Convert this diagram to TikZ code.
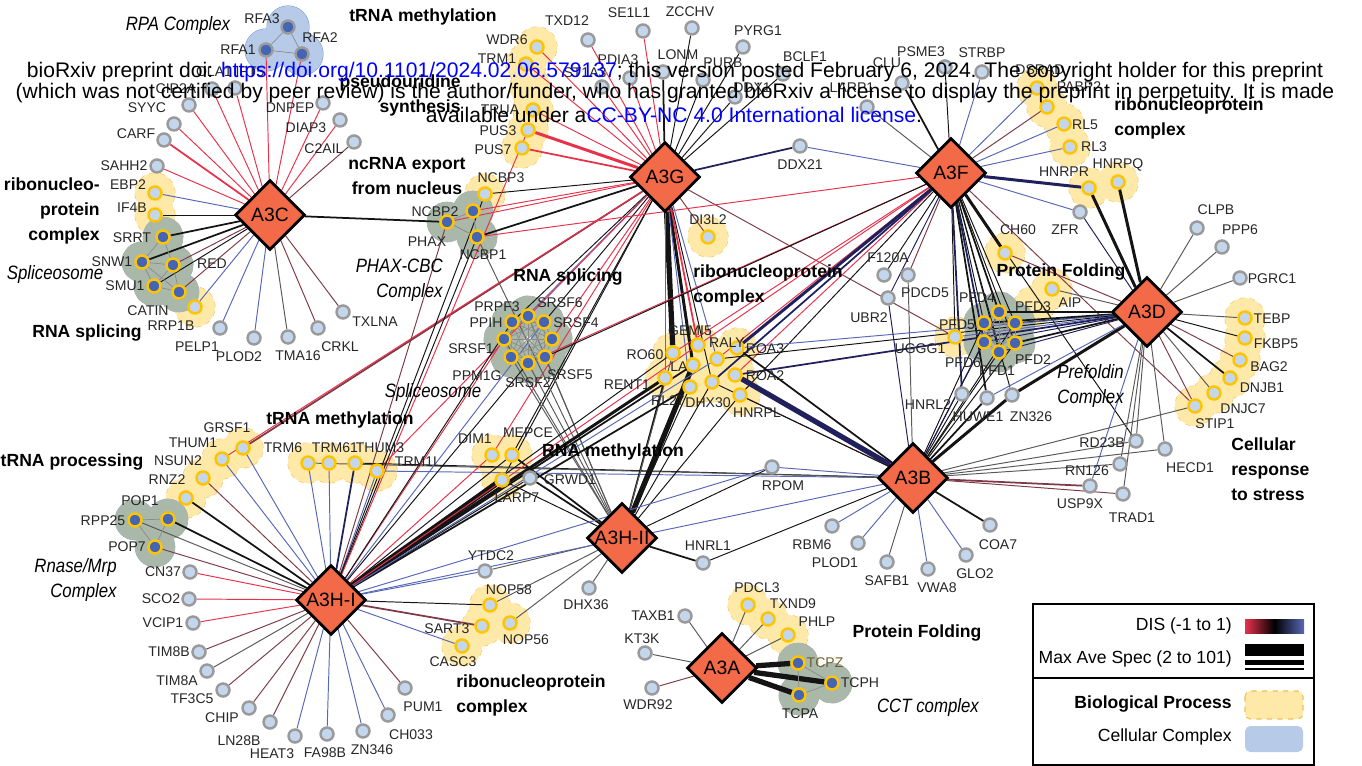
\documentclass[tikz,border=0pt]{standalone}
\usepackage{fontspec}
\setmainfont{Liberation Sans}
\newfontfamily\narrowsans[FakeStretch=0.87]{Liberation Sans}
\usetikzlibrary{shapes.geometric}
\pgfdeclarelayer{blobs}
\pgfdeclarelayer{edges}
\pgfsetlayers{blobs,edges,main}
\definecolor{preyfill}{HTML}{C4D6EC}
\definecolor{preyrim}{HTML}{9A9A9A}
\definecolor{bprim}{HTML}{FFC400}
\definecolor{cxfill}{HTML}{4664B4}
\definecolor{baitfill}{HTML}{F26A48}
\definecolor{bpfill}{HTML}{FFE9A8}
\definecolor{bpline}{HTML}{F0C050}
\definecolor{cplxfill}{HTML}{AAB8AA}
\definecolor{cplxline}{HTML}{8FAAD6}
\definecolor{rpafill}{HTML}{B7CBE8}
\definecolor{rpaline}{HTML}{6F9AD4}
\definecolor{disR}{HTML}{E8324C}
\definecolor{disr}{HTML}{7E3A46}
\definecolor{disK}{HTML}{141414}
\definecolor{disG}{HTML}{595959}
\definecolor{disb}{HTML}{20205C}
\definecolor{disB}{HTML}{5868B8}
\definecolor{wmblue}{HTML}{0000FF}
\definecolor{tcpztext}{HTML}{6E5F2A}
\newcommand\bpmembers{EBP2,IF4B,SRRT,SNW1,RED,SMU1,CATIN,RRP1B,WDR6,TRM1,fTRM,TRUA,PUS3,PUS7,
  NCBP3,NCBP2,NCBP1,DI3L2,DSRAD,PABP2,RL5,RL3,HNRPR,HNRPQ,CH60,AIP,fAIP,UGGG1,
  PFD5,PFD4,PFD3,PFD2,PFD1,PFD6,RO60,GEMI5,ROA3,LA,RALY,ROA2,DHX30,RL27,RENT1,HNRPL,
  PRPF3,SRSF6,SRSF4,SRSF5,SRSF2,PPM1G,SRSF1,PPIH,TEBP,FKBP5,BAG2,DNJB1,DNJC7,STIP1,
  GRSF1,THUM1,NSUN2,RNZ2,POP1,TRM6,TRM61,THUM3,TRM1L,DIM1,MEPCE,LARP7,
  NOP58,SART3,NOP56,CASC3,PDCL3,TXND9,PHLP,TCPZ,TCPH,TCPA}
\newcommand\cxmembers{SRRT,SNW1,RED,SMU1,CATIN,NCBP2,PHAX,NCBP1,
  PRPF3,SRSF6,SRSF4,SRSF5,SRSF2,PPM1G,SRSF1,PPIH,PFD5,PFD4,PFD3,PFD2,PFD1,PFD6,
  POP1,RPP25,POP7,TCPZ,TCPH,TCPA}
\newcommand\srsfset{PRPF3,SRSF6,SRSF4,SRSF5,SRSF2,PPM1G,SRSF1,PPIH}
\newcommand\pfdset{PFD5,PFD4,PFD3,PFD2,PFD1,PFD6}
\begin{document}
\begin{tikzpicture}[x=0.02cm, y=-0.02cm,
  prey/.style={circle, draw=preyrim, fill=preyfill, line width=1.4pt, minimum size=0.26cm, inner sep=0pt},
  bp/.style={prey, draw=bprim},
  cx/.style={prey, draw=bprim, fill=cxfill},
  cxg/.style={prey, fill=cxfill},
  bait/.style={diamond, draw=black, fill=baitfill, line width=1.6pt, minimum size=1.4cm, inner sep=0pt,
    font=\fontsize{11}{12}\selectfont},
  lbl/.style={font=\fontsize{8}{9}\selectfont, text=black!85, inner sep=0pt},
  head/.style={font=\fontsize{10}{14.2}\selectfont\bfseries, inner sep=0pt, align=center},
  cplx/.style={font=\narrowsans\itshape\fontsize{11}{14.2}\selectfont, inner sep=0pt},
  legtxt/.style={font=\fontsize{10}{12}\selectfont, inner sep=0pt, anchor=east},
  wm/.style={font=\fontsize{12}{14}\selectfont, inner sep=0pt},
  bpedge/.style={draw=bpline, dashed, line width=0.6pt},
  cR/.style={draw=disR}, ck/.style={draw=disr}, cK/.style={draw=disK},
  cG/.style={draw=disG}, cb/.style={draw=disb}, cB/.style={draw=disB},
  ew1/.style={line width=0.55pt}, ew2/.style={line width=1pt},
  ew3/.style={line width=1.7pt}, ew4/.style={line width=3pt},
  inner/.style={draw=disG!70, line width=0.4pt}]
\useasboundingbox (0,0) rectangle (1362,766);

\foreach \n/\x/\y in {A3C/270/215, A3G/665/177, A3F/951/173, A3D/1147/312, A3B/913/478,
  A3H-II/622/538, A3H-I/331/600, A3A/722/668}
  \node[bait] (\n) at (\x,\y) {\n};

\foreach \n/\x/\y/\lx/\ly in {
  CIP2A/189/105/176/89, SYYC/174/124/147/108, CARF/164/140/136/134, SAHH2/157/166/124/166,
  OLA1/212/89/214/72, IFT5/235/88/250/72, DNPEP/323/103/290/108, DIAP3/340/120/306/128,
  C2AIL/354/142/324/149, PELP1/220/328/197/347, PLOD2/254/338/239/357, TMA16/288/337/298/356,
  CRKL/318/328/340/347, TXLNA/343/312/375/322, TXD12/588/40/567/21, SE1L1/643/31/629/13,
  ZCCHV/692/28/690/12, PYRG1/743/47/758/31, BCLF1/783/74/805/57, PURB/703/80/723/63,
  LONM/663/72/678/55, PDIA3/630/78/618/60, ST1A3/602/87/585/73, DDX1/735/97/752/88,
  LARP1/867/107/852/88, CLU/902/83/887/63, PSME3/945/67/921/52, STRBP/982/72/982/53,
  DDX21/800/146/800/165, ZFR/1080/212/1065/230, CLPB/1197/228/1216/210, PPP6/1222/247/1240/230,
  PGRC1/1240/278/1272/279, F120A/884/275/888/258, PDCD5/908/275/925/293, UBR2/888/298/869/318,
  HNRL2/962/394/928/405, HUWE1/987/398/978/417, ZN326/1012/395/1031/417, RD23B/1136/441/1102/443,
  HECD1/1165/449/1190/468, RN126/1120/464/1087/471, USP9X/1090/486/1080/504, TRAD1/1123/494/1132/518,
  RPOM/772/467/783/486, GRWD1/530/478/570/480, HNRL1/703/563/708/546, RBM6/832/526/812/545,
  PLOD1/858/543/835/563, SAFB1/887/562/887/581, VWA8/928/569/937/588, GLO2/966/555/975/574,
  COA7/990/525/998/545, DHX36/589/588/586/605, YTDC2/485/571/491/556, TAXB1/685/616/653/616,
  KT3K/645/653/642/639, WDR92/652/688/648/705, CN37/190/572/163/572, SCO2/189/599/161/599,
  VCIP1/193/623/163/623, TIM8B/199/652/169/652, TIM8A/207/671/177/681, TF3C5/223/690/192/699,
  CHIP/249/708/222/718, LN28B/270/722/239/741, HEAT3/295/736/272/754, FA98B/327/734/325/753,
  ZN346/363/731/372/750, CH033/388/715/411/735, PUM1/405/688/423/707}
{
  \node[prey] (\n) at (\x,\y) {};
  \node[lbl] (l\n) at (\lx,\ly) {\n};
}

\foreach \n/\x/\y/\lx/\ly in {
  EBP2/155/193/128/185, IF4B/155/215/132/208, RRP1B/195/307/171/326,
  WDR6/537/47/507/40, TRM1/526/64/497/59, TRUA/533/110/500/110, PUS3/528/130/498/131, PUS7/522/148/493/150,
  NCBP3/485/194/501/178, DI3L2/708/237/708/220,
  DSRAD/1037/88/1040/70, PABP2/1047/107/1079/87, RL5/1064/124/1085/125, RL3/1070/147/1094/147,
  HNRPR/1089/188/1064/172, HNRPQ/1118/182/1118/165, CH60/1005/253/1018/230, AIP/1052/289/1070/303,
  UGGG1/955/337/920/349,
  TEBP/1245/318/1272/319, FKBP5/1245/338/1276/344, BAG2/1240/360/1269/367, DNJB1/1230/378/1262/388,
  DNJC7/1214/393/1243/409, STIP1/1195/406/1215/424,
  RO60/673/353/645/355, GEMI5/698/345/690/331, ROA3/737/348/765/349, LA/693/365/679/367,
  RALY/717/359/727/343, ROA2/735/375/765/376, DHX30/712/382/708/403, RL27/690/387/668/401,
  RENT1/665/378/627/385, HNRPL/740/395/757/413,
  GRSF1/243/448/227/428, THUM1/222/459/193/443, NSUN2/203/478/178/461, RNZ2/186/498/167/480,
  TRM6/308/463/283/448, TRM61/329/463/335/448, THUM3/355/463/380/448, TRM1L/377/471/418/462,
  DIM1/492/455/475/439, MEPCE/512/455/528/433, LARP7/502/480/517/498,
  NOP58/490/605/509/590, SART3/482/626/447/629, NOP56/510/623/526/640, CASC3/462/646/453/662,
  PDCL3/748/605/757/588, TXND9/768/619/793/604, PHLP/788/635/817/622}
{
  \node[bp] (\n) at (\x,\y) {};
  \node[lbl] (l\n) at (\lx,\ly) {\n};
}

\foreach \n/\x/\y/\lx/\ly in {
  SRRT/163/237/132/238, SNW1/142/262/112/262, RED/173/265/212/264, SMU1/154/286/125/286,
  CATIN/179/292/148/311, NCBP2/473/211/435/212, PHAX/447/222/427/242, NCBP1/477/237/483/255,
  PRPF3/528/316/497/307, SRSF6/544/322/560/303, SRSF4/552/339/576/323, SRSF5/545/357/570/375,
  SRSF2/528/363/528/383, PPM1G/511/357/477/376, SRSF1/504/339/471/349, PPIH/512/322/486/323,
  PFD5/984/323/957/325, PFD4/999/312/977/298, PFD3/1015/323/1033/307, PFD2/1015/343/1033/360,
  PFD1/999/352/997/371, PFD6/984/342/963/363,
  POP1/168/519/140/501, RPP25/135/520/103/521, POP7/155/547/127/547,
  TCPH/832/683/860/683, TCPA/799/695/800/714}
{
  \node[cx] (\n) at (\x,\y) {};
  \node[lbl] (l\n) at (\lx,\ly) {\n};
}
\node[cx] (TCPZ) at (798,663) {};
\node[lbl, text=tcpztext] (lTCPZ) at (825,663) {TCPZ};

\foreach \n/\x/\y/\lx/\ly in {RFA3/288/27/262/19, RFA2/302/54/320/38, RFA1/266/50/238/50}
{
  \node[cxg] (\n) at (\x,\y) {};
  \node[lbl] (l\n) at (\lx,\ly) {\n};
}
\coordinate (fTRM) at (530,87);
\coordinate (fAIP) at (1034,306);

\begin{pgfonlayer}{blobs}
\foreach \m in \bpmembers \draw[bpedge] (\m) circle (0.4cm);
\foreach \m in \bpmembers \fill[bpfill] (\m) circle (0.4cm);
\foreach \m in \cxmembers \draw[cplxline, line width=0.4pt] (\m) circle (0.4cm);
\foreach \m in \cxmembers \fill[cplxfill] (\m) circle (0.4cm);
\foreach \m in {RFA1,RFA2,RFA3} \draw[rpaline, line width=0.6pt] (\m) circle (0.42cm);
\foreach \m in {RFA1,RFA2,RFA3} \fill[rpafill] (\m) circle (0.42cm);
\end{pgfonlayer}

\begin{pgfonlayer}{edges}
\foreach \t/\c/\w in {RFA1/cR/ew1, RFA2/cR/ew1, OLA1/cR/ew1, IFT5/cR/ew1, CIP2A/cR/ew1, SYYC/cR/ew1,
  CARF/cR/ew2, SAHH2/cR/ew1, DNPEP/cR/ew1, DIAP3/cR/ew1, C2AIL/ck/ew1, EBP2/cB/ew1, IF4B/cK/ew1,
  SRRT/cK/ew2, SNW1/cK/ew2, RED/ck/ew1, SMU1/cK/ew1, CATIN/ck/ew1, RRP1B/cB/ew1, PELP1/cB/ew1,
  PLOD2/cB/ew1, TMA16/cG/ew1, CRKL/ck/ew1, TXLNA/ck/ew1, PHAX/cK/ew2}
  \draw[\c,\w] (A3C) -- (\t);
\foreach \t/\c/\w in {TXD12/cR/ew1, SE1L1/cR/ew1, ZCCHV/cK/ew1, PYRG1/cK/ew1, PURB/cK/ew1, BCLF1/cK/ew1,
  LONM/cK/ew2, PDIA3/cR/ew1, ST1A3/cR/ew1, DDX1/cK/ew1, WDR6/cR/ew1, TRM1/cR/ew1, TRUA/cR/ew1,
  PUS3/cR/ew3, PUS7/cR/ew2, NCBP3/cK/ew1, NCBP2/cR/ew1, NCBP1/cK/ew2, PHAX/cR/ew1, DDX21/cb/ew2,
  DI3L2/ck/ew1, RO60/cK/ew4, LA/cK/ew3, RENT1/cR/ew1, GEMI5/cR/ew2, RALY/cB/ew1, RL27/cB/ew1,
  DHX30/cK/ew1, GRSF1/ck/ew2, THUM1/cR/ew1, UGGG1/ck/ew1, SRSF6/cK/ew1, SRSF4/cR/ew1, PPIH/cK/ew1,
  SRSF1/cB/ew1, MEPCE/cK/ew1, DIM1/cR/ew1, LARP7/cK/ew1, TRM1L/cR/ew1}
  \draw[\c,\w] (A3G) -- (\t);
\foreach \t/\c/\w in {LARP1/cG/ew1, CLU/cK/ew2, PSME3/cK/ew1, STRBP/cB/ew1, DSRAD/cB/ew1, PABP2/ck/ew1,
  RL5/cB/ew1, RL3/cB/ew1, HNRPR/cb/ew3, ZFR/cB/ew1, DDX21/cB/ew1, NCBP1/cR/ew1, CH60/cK/ew3,
  F120A/cK/ew1, PDCD5/ck/ew1, UBR2/cb/ew1, PFD5/cK/ew1, PFD4/cK/ew2, PFD3/cK/ew1, PFD2/cK/ew1,
  PFD1/cK/ew1, PFD6/cb/ew2, UGGG1/cK/ew1, HNRL2/cb/ew2, HUWE1/cK/ew2, ZN326/cK/ew1, GEMI5/cR/ew1,
  RALY/cR/ew1, ROA3/cb/ew3, ROA2/cR/ew1, RO60/cR/ew1, DHX30/cb/ew2, HNRPL/cK/ew1, SRSF2/cR/ew1,
  SRSF5/cK/ew1, RD23B/cK/ew1, STIP1/ck/ew1}
  \draw[\c,\w] (A3F) -- (\t);
\foreach \t/\c/\w in {CLPB/cG/ew1, PPP6/cG/ew1, PGRC1/cG/ew1, AIP/cG/ew1, TEBP/cG/ew1, FKBP5/cK/ew1,
  BAG2/ck/ew1, DNJB1/cK/ew2, DNJC7/cG/ew1, STIP1/ck/ew1, HNRPR/cK/ew3, HNRPQ/cK/ew3, ZFR/cb/ew1,
  CH60/ck/ew1, PFD5/cK/ew2, PFD4/cK/ew2, PFD3/cK/ew1, PFD2/cK/ew2, PFD1/cb/ew1, PFD6/cb/ew1,
  UGGG1/cB/ew1, ZN326/cK/ew3, HUWE1/cB/ew1, RD23B/cG/ew1, HECD1/cG/ew1, RN126/cG/ew1, USP9X/cB/ew1,
  TRAD1/cG/ew1, ROA3/cB/ew1, ROA2/cb/ew2, RALY/cK/ew1}
  \draw[\c,\w] (A3D) -- (\t);
\foreach \t/\c/\w in {RPOM/cB/ew1, HNRL2/cK/ew1, HUWE1/cK/ew2, ZN326/cK/ew3, RBM6/cB/ew1, PLOD1/cB/ew1,
  SAFB1/cG/ew1, VWA8/cB/ew1, GLO2/cB/ew1, COA7/cK/ew2, UBR2/cb/ew1, PDCD5/cG/ew1, PFD5/cK/ew1,
  PFD6/cK/ew1, PFD1/cK/ew1, PFD2/cK/ew1, PFD4/cb/ew1, PFD3/cK/ew1, ROA3/cK/ew2, ROA2/cb/ew4,
  HNRPL/ck/ew1, RD23B/cG/ew1, RN126/cG/ew1, USP9X/ck/ew2, TRAD1/ck/ew1, HECD1/cG/ew1, STIP1/cG/ew1,
  HNRL1/cK/ew1, TRM1L/cB/ew1, THUM3/cK/ew1, TRM6/cG/ew1, DHX30/cK/ew1}
  \draw[\c,\w] (A3B) -- (\t);
\foreach \t/\c/\w in {DHX36/cG/ew1, YTDC2/cG/ew1, NOP58/cG/ew1, NOP56/cG/ew1, HNRL1/cK/ew2, LA/cK/ew4,
  RENT1/cK/ew2, GRWD1/cK/ew2, LARP7/cK/ew1, MEPCE/cK/ew2, SRSF1/cG/ew1, SRSF2/cG/ew1, PPM1G/cG/ew1,
  SRSF5/cG/ew1, PRPF3/cG/ew1, NCBP1/cG/ew1, RPOM/cK/ew1, RL27/cK/ew1, DHX30/cK/ew1, HNRPL/cK/ew1,
  RO60/cG/ew1}
  \draw[\c,\w] (A3H-II) -- (\t);
\foreach \t/\c/\w in {CN37/cR/ew1, SCO2/cR/ew1, VCIP1/cR/ew1, TIM8B/ck/ew1, TIM8A/cG/ew1, TF3C5/ck/ew1,
  CHIP/ck/ew1, LN28B/ck/ew1, HEAT3/cB/ew1, FA98B/cB/ew1, ZN346/cB/ew1, CH033/cB/ew1, PUM1/ck/ew1,
  CASC3/cB/ew1, SART3/ck/ew2, NOP58/cK/ew1, YTDC2/cB/ew1, RPP25/cG/ew1, POP1/cK/ew2, POP7/ck/ew1,
  RNZ2/cK/ew2, NSUN2/ck/ew1, THUM1/cB/ew1, GRSF1/cB/ew1, TRM6/cB/ew1, TRM61/cB/ew1, THUM3/cb/ew2,
  TRM1L/cB/ew1, DIM1/cR/ew1, MEPCE/cK/ew1, LARP7/cK/ew4, GRWD1/cK/ew1, RPOM/cB/ew1, RENT1/cK/ew3,
  LA/cK/ew2, RO60/cK/ew1, RL27/cK/ew2, SRSF1/cR/ew1, PPIH/cK/ew1, SRSF6/cB/ew1, SRSF2/cK/ew1,
  NCBP1/cK/ew1, PHAX/ck/ew1, A3B/cB/ew1, GEMI5/cR/ew1, PUS3/cR/ew1, NCBP3/cK/ew1, RALY/cB/ew1}
  \draw[\c,\w] (A3H-I) -- (\t);
\foreach \t/\c/\w in {PDCL3/cG/ew1, TXND9/cG/ew1, PHLP/cG/ew1, TCPZ/cK/ew4, TCPH/cK/ew4, TCPA/cK/ew4,
  TAXB1/cG/ew1, KT3K/cG/ew1, WDR92/ck/ew1}
  \draw[\c,\w] (A3A) -- (\t);
\foreach \a/\b in {RFA1/RFA2, RFA2/RFA3, RFA1/RFA3, SRRT/SNW1, SNW1/SMU1, SNW1/RED, SMU1/CATIN,
  RED/CATIN, SRRT/RED, SNW1/CATIN, SMU1/RED, NCBP2/PHAX, NCBP2/NCBP1, PHAX/NCBP1, POP1/RPP25,
  RPP25/POP7, POP1/POP7, TCPZ/TCPH, TCPZ/TCPA, TCPA/TCPH}
  \draw[inner] (\a) -- (\b);
\foreach \a [count=\i] in \srsfset
  \foreach \b [count=\j] in \srsfset
    {\ifnum\i<\j \draw[inner] (\a) -- (\b);\fi}
\foreach \a [count=\i] in \pfdset
  \foreach \b [count=\j] in \pfdset
    {\ifnum\i<\j \draw[inner] (\a) -- (\b);\fi}
\end{pgfonlayer}

\node[head] (hTM1) at (423,17) {tRNA methylation};
\node[head, align=right, anchor=east] (hPS) at (461,95) {pseudouridine\\synthesis};
\node[head] (hNE) at (407,176) {ncRNA export\\from nucleus};
\node[head, align=right, anchor=east] (hRNP1) at (100,211) {ribonucleo-\\protein\\complex};
\node[head] (hRS1) at (87,333) {RNA splicing};
\node[head] (hTP) at (72,462) {tRNA processing};
\node[head] (hTM2) at (340,420) {tRNA methylation};
\node[head] (hRS2) at (568,277) {RNA splicing};
\node[head] (hRM) at (613,452) {RNA methylation};
\node[head, align=left, anchor=west] (hRNP2) at (693,285) {ribonucleoprotein\\complex};
\node[head, align=left, anchor=west] (hRNP3) at (1114,118) {ribonucleoprotein\\complex};
\node[head] (hPF1) at (1061,272) {Protein Folding};
\node[head, align=left, anchor=west] (hCR) at (1231,469) {Cellular\\response\\to stress};
\node[head, align=left, anchor=west] (hRNP4) at (456,695) {ribonucleoprotein\\complex};
\node[head] (hPF2) at (917,633) {Protein Folding};

\node[cplx] (cRPA) at (178,26) {RPA Complex};
\node[cplx] (cSp1) at (55,275) {Spliceosome};
\node[cplx, align=right, anchor=east] (cPHAX) at (443,280) {PHAX-CBC\\Complex};
\node[cplx] (cSp2) at (433,393) {Spliceosome};
\node[cplx, align=right, anchor=east] (cRM) at (117,580) {Rnase/Mrp\\Complex};
\node[cplx, align=left, anchor=west] (cPF) at (1057,386) {Prefoldin\\Complex};
\node[cplx] (cCCT) at (928,708) {CCT complex};

\draw[line width=0.8pt] (1033,604) rectangle (1314,765);
\draw[line width=0.8pt] (1033,678) -- (1314,678);
\shade[left color=disR, right color=disB, middle color=black] (1245,619) rectangle (1304,633);
\fill (1245,644) rectangle (1304,656);
\fill (1245,660) rectangle (1304,665);
\fill (1245,668) rectangle (1304,670);
\draw[bpedge, fill=bpfill, rounded corners=3pt] (1245,691) rectangle (1303,719);
\fill[rpafill, rounded corners=3pt] (1245,726) rectangle (1303,752);
\node[legtxt] (lgDIS) at (1232,626) {DIS (-1 to 1)};
\node[legtxt] (lgMAS) at (1232,659) {Max Ave Spec (2 to 101)};
\node[legtxt, font=\fontsize{10}{12}\selectfont\bfseries] (lgBP) at (1232,704) {Biological Process};
\node[legtxt] (lgCC) at (1232,737) {Cellular Complex};

\node[wm] (wm1) at (675,72) {bioRxiv preprint doi: \textcolor{wmblue}{https://doi.org/10.1101/2024.02.06.579137}; this version posted February 6, 2024. The copyright holder for this preprint};
\node[wm] (wm2) at (675,93) {(which was not certified by peer review) is the author/funder, who has granted bioRxiv a license to display the preprint in perpetuity. It is made};
\node[wm] (wm3) at (674,115) {available under a\textcolor{wmblue}{CC-BY-NC 4.0 International license}.};
\end{tikzpicture}
\end{document}
